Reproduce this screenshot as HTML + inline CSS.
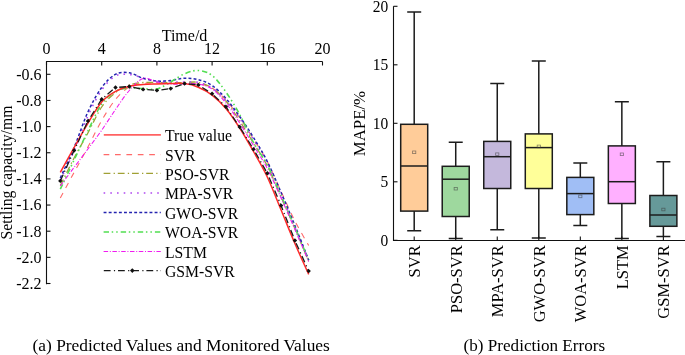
<!DOCTYPE html><html><head><meta charset="utf-8"><style>
html,body{margin:0;padding:0;background:#fff;width:685px;height:355px;overflow:hidden}
svg{display:block;will-change:transform} text{font-family:"Liberation Serif", serif;fill:#000}
</style></head><body>
<svg width="685" height="355" viewBox="0 0 685 355">
<g fill="none" stroke-linejoin="round">
<path d="M60.30,198.00 C62.60,193.73 69.50,180.90 74.10,172.40 C78.70,163.90 83.30,155.65 87.90,147.00 C92.50,138.35 97.10,128.42 101.70,120.50 C106.30,112.58 110.90,105.08 115.50,99.50 C120.10,93.92 124.70,89.67 129.30,87.00 C133.90,84.33 138.50,84.17 143.10,83.50 C147.70,82.83 152.30,83.00 156.90,83.00 C161.50,83.00 166.10,83.42 170.70,83.50 C175.30,83.58 179.90,83.42 184.50,83.50 C189.10,83.58 193.70,83.25 198.30,84.00 C202.90,84.75 207.50,85.33 212.10,88.00 C216.70,90.67 221.30,95.00 225.90,100.00 C230.50,105.00 235.10,111.50 239.70,118.00 C244.30,124.50 248.90,131.75 253.50,139.00 C258.10,146.25 262.70,152.75 267.30,161.50 C271.90,170.25 276.50,181.58 281.10,191.50 C285.70,201.42 290.30,212.00 294.90,221.00 C299.50,230.00 306.40,241.42 308.70,245.50" stroke="#ff6a6a" stroke-width="1.1" stroke-dasharray="5.7 5.7"/>
<path d="M60.30,185.50 C62.60,180.92 69.50,166.75 74.10,158.00 C78.70,149.25 83.30,141.50 87.90,133.00 C92.50,124.50 97.10,113.75 101.70,107.00 C106.30,100.25 110.90,96.17 115.50,92.50 C120.10,88.83 124.70,86.67 129.30,85.00 C133.90,83.33 138.50,82.92 143.10,82.50 C147.70,82.08 152.30,82.45 156.90,82.50 C161.50,82.55 166.10,82.80 170.70,82.80 C175.30,82.80 179.90,82.57 184.50,82.50 C189.10,82.43 193.70,81.48 198.30,82.40 C202.90,83.32 207.50,84.90 212.10,88.00 C216.70,91.10 221.30,95.50 225.90,101.00 C230.50,106.50 235.10,114.00 239.70,121.00 C244.30,128.00 248.90,135.50 253.50,143.00 C258.10,150.50 262.70,157.00 267.30,166.00 C271.90,175.00 276.50,186.58 281.10,197.00 C285.70,207.42 290.30,217.75 294.90,228.50 C299.50,239.25 306.40,256.00 308.70,261.50" stroke="#a0a034" stroke-width="1.3" stroke-dasharray="6.8 3.2 1.3 2.9"/>
<path d="M60.30,180.00 C62.60,175.17 69.50,161.67 74.10,151.00 C78.70,140.33 83.30,126.17 87.90,116.00 C92.50,105.83 97.10,96.67 101.70,90.00 C106.30,83.33 110.90,78.58 115.50,76.00 C120.10,73.42 124.70,74.17 129.30,74.50 C133.90,74.83 138.50,76.83 143.10,78.00 C147.70,79.17 152.30,80.83 156.90,81.50 C161.50,82.17 166.10,81.92 170.70,82.00 C175.30,82.08 179.90,81.92 184.50,82.00 C189.10,82.08 193.70,81.50 198.30,82.50 C202.90,83.50 207.50,84.92 212.10,88.00 C216.70,91.08 221.30,95.92 225.90,101.00 C230.50,106.08 235.10,112.03 239.70,118.50 C244.30,124.97 248.90,132.38 253.50,139.80 C258.10,147.22 262.70,153.80 267.30,163.00 C271.90,172.20 276.50,184.33 281.10,195.00 C285.70,205.67 290.30,216.17 294.90,227.00 C299.50,237.83 306.40,254.50 308.70,260.00" stroke="#b048f0" stroke-width="1.6" stroke-dasharray="1.6 5.1"/>
<path d="M60.30,178.00 C62.60,172.92 69.50,158.50 74.10,147.50 C78.70,136.50 83.30,122.00 87.90,112.00 C92.50,102.00 97.10,93.78 101.70,87.50 C106.30,81.22 110.90,76.75 115.50,74.30 C120.10,71.85 124.70,72.13 129.30,72.80 C133.90,73.47 138.50,76.93 143.10,78.30 C147.70,79.67 152.30,80.63 156.90,81.00 C161.50,81.37 166.10,80.95 170.70,80.50 C175.30,80.05 179.90,78.45 184.50,78.30 C189.10,78.15 193.70,78.40 198.30,79.60 C202.90,80.80 207.50,82.35 212.10,85.50 C216.70,88.65 221.30,93.33 225.90,98.50 C230.50,103.67 235.10,110.00 239.70,116.50 C244.30,123.00 248.90,130.00 253.50,137.50 C258.10,145.00 262.70,152.33 267.30,161.50 C271.90,170.67 276.50,181.83 281.10,192.50 C285.70,203.17 290.30,214.25 294.90,225.50 C299.50,236.75 306.40,254.25 308.70,260.00" stroke="#2424b0" stroke-width="1.5" stroke-dasharray="2.9 2.2"/>
<path d="M60.30,189.20 C62.60,184.33 69.50,169.70 74.10,160.00 C78.70,150.30 83.30,140.33 87.90,131.00 C92.50,121.67 97.10,110.58 101.70,104.00 C106.30,97.42 110.90,94.17 115.50,91.50 C120.10,88.83 124.70,88.50 129.30,88.00 C133.90,87.50 138.50,88.33 143.10,88.50 C147.70,88.67 152.30,90.08 156.90,89.00 C161.50,87.92 166.10,84.53 170.70,82.00 C175.30,79.47 179.90,75.72 184.50,73.80 C189.10,71.88 193.70,70.22 198.30,70.50 C202.90,70.78 207.50,71.92 212.10,75.50 C216.70,79.08 221.30,85.50 225.90,92.00 C230.50,98.50 235.10,106.08 239.70,114.50 C244.30,122.92 248.90,134.08 253.50,142.50 C258.10,150.92 262.70,156.08 267.30,165.00 C271.90,173.92 276.50,185.58 281.10,196.00 C285.70,206.42 290.30,216.75 294.90,227.50 C299.50,238.25 306.40,255.00 308.70,260.50" stroke="#52de52" stroke-width="1.6" stroke-dasharray="5.4 2.7 1.5 3 1.5 3"/>
<path d="M60.30,186.00 C62.60,182.90 69.50,173.57 74.10,167.40 C78.70,161.23 83.30,155.20 87.90,149.00 C92.50,142.80 97.10,136.78 101.70,130.20 C106.30,123.62 110.90,116.12 115.50,109.50 C120.10,102.88 124.70,95.67 129.30,90.50 C133.90,85.33 138.50,79.92 143.10,78.50 C147.70,77.08 152.30,81.08 156.90,82.00 C161.50,82.92 166.10,83.67 170.70,84.00 C175.30,84.33 179.90,84.00 184.50,84.00 C189.10,84.00 193.70,83.17 198.30,84.00 C202.90,84.83 207.50,85.83 212.10,89.00 C216.70,92.17 221.30,97.33 225.90,103.00 C230.50,108.67 235.10,115.92 239.70,123.00 C244.30,130.08 248.90,137.92 253.50,145.50 C258.10,153.08 262.70,159.75 267.30,168.50 C271.90,177.25 276.50,187.83 281.10,198.00 C285.70,208.17 290.30,218.92 294.90,229.50 C299.50,240.08 306.40,256.17 308.70,261.50" stroke="#f01cf0" stroke-width="1.1" stroke-dasharray="4.5 1.7 1 1.6"/>
<path d="M60.30,172.40 C62.60,168.25 69.50,155.68 74.10,147.50 C78.70,139.32 83.30,130.88 87.90,123.30 C92.50,115.72 97.10,107.32 101.70,102.00 C106.30,96.68 110.90,94.02 115.50,91.40 C120.10,88.78 124.70,87.43 129.30,86.30 C133.90,85.17 138.50,84.98 143.10,84.60 C147.70,84.22 152.30,84.17 156.90,84.00 C161.50,83.83 166.10,83.67 170.70,83.60 C175.30,83.53 179.90,83.00 184.50,83.60 C189.10,84.20 193.70,85.28 198.30,87.20 C202.90,89.12 207.50,91.55 212.10,95.10 C216.70,98.65 221.30,103.02 225.90,108.50 C230.50,113.98 235.10,120.83 239.70,128.00 C244.30,135.17 248.90,143.33 253.50,151.50 C258.10,159.67 262.70,167.25 267.30,177.00 C271.90,186.75 276.50,198.92 281.10,210.00 C285.70,221.08 290.30,232.77 294.90,243.50 C299.50,254.23 306.40,269.25 308.70,274.40" stroke="#ff2a2a" stroke-width="1.5"/>
<path d="M60.30,180.90 L74.10,150.50 L87.90,121.10 L101.70,99.20 L115.50,87.50 L129.30,86.50 L143.10,89.40 L156.90,90.40 L170.70,88.60 L184.50,83.60 L198.30,84.90 L212.10,93.80 L225.90,106.70 L239.70,127.00 L253.50,149.20 L267.30,173.20 L281.10,205.60 L294.90,240.50 L308.70,271.10" stroke="#1a1a1a" stroke-width="1.3" stroke-dasharray="6.8 3.3 1.2 2.9"/>
</g>
<g fill="#111">
<path d="M60.30,178.70 L62.50,180.90 L60.30,183.10 L58.10,180.90Z"/>
<path d="M74.10,148.30 L76.30,150.50 L74.10,152.70 L71.90,150.50Z"/>
<path d="M87.90,118.90 L90.10,121.10 L87.90,123.30 L85.70,121.10Z"/>
<path d="M101.70,97.00 L103.90,99.20 L101.70,101.40 L99.50,99.20Z"/>
<path d="M115.50,85.30 L117.70,87.50 L115.50,89.70 L113.30,87.50Z"/>
<path d="M129.30,84.30 L131.50,86.50 L129.30,88.70 L127.10,86.50Z"/>
<path d="M143.10,87.20 L145.30,89.40 L143.10,91.60 L140.90,89.40Z"/>
<path d="M156.90,88.20 L159.10,90.40 L156.90,92.60 L154.70,90.40Z"/>
<path d="M170.70,86.40 L172.90,88.60 L170.70,90.80 L168.50,88.60Z"/>
<path d="M184.50,81.40 L186.70,83.60 L184.50,85.80 L182.30,83.60Z"/>
<path d="M198.30,82.70 L200.50,84.90 L198.30,87.10 L196.10,84.90Z"/>
<path d="M212.10,91.60 L214.30,93.80 L212.10,96.00 L209.90,93.80Z"/>
<path d="M225.90,104.50 L228.10,106.70 L225.90,108.90 L223.70,106.70Z"/>
<path d="M239.70,124.80 L241.90,127.00 L239.70,129.20 L237.50,127.00Z"/>
<path d="M253.50,147.00 L255.70,149.20 L253.50,151.40 L251.30,149.20Z"/>
<path d="M267.30,171.00 L269.50,173.20 L267.30,175.40 L265.10,173.20Z"/>
<path d="M281.10,203.40 L283.30,205.60 L281.10,207.80 L278.90,205.60Z"/>
<path d="M294.90,238.30 L297.10,240.50 L294.90,242.70 L292.70,240.50Z"/>
<path d="M308.70,268.90 L310.90,271.10 L308.70,273.30 L306.50,271.10Z"/>
</g>
<g stroke="#111" stroke-width="1.1" fill="none">
<path d="M46.5,284.3 V61.5 H322.5"/>
<path d="M46.50,61.5 v4"/>
<path d="M101.70,61.5 v4"/>
<path d="M156.90,61.5 v4"/>
<path d="M212.10,61.5 v4"/>
<path d="M267.30,61.5 v4"/>
<path d="M322.50,61.5 v4"/>
<path d="M46.5,74.30 h4"/>
<path d="M46.5,100.45 h4"/>
<path d="M46.5,126.60 h4"/>
<path d="M46.5,152.75 h4"/>
<path d="M46.5,178.90 h4"/>
<path d="M46.5,205.05 h4"/>
<path d="M46.5,231.20 h4"/>
<path d="M46.5,257.35 h4"/>
<path d="M46.5,283.50 h4"/>
</g>
<g font-size="16" text-anchor="middle">
<text x="46.50" y="53.6">0</text>
<text x="101.70" y="53.6">4</text>
<text x="156.90" y="53.6">8</text>
<text x="212.10" y="53.6">12</text>
<text x="267.30" y="53.6">16</text>
<text x="322.50" y="53.6">20</text>
</g>
<g font-size="16" text-anchor="end">
<text x="41.6" y="79.60">-0.6</text>
<text x="41.6" y="105.75">-0.8</text>
<text x="41.6" y="131.90">-1.0</text>
<text x="41.6" y="158.05">-1.2</text>
<text x="41.6" y="184.20">-1.4</text>
<text x="41.6" y="210.35">-1.6</text>
<text x="41.6" y="236.50">-1.8</text>
<text x="41.6" y="262.65">-2.0</text>
<text x="41.6" y="288.80">-2.2</text>
</g>
<text x="184.5" y="41.1" font-size="16" text-anchor="middle">Time/d</text>
<text transform="translate(12.3,172.5) rotate(-90)" font-size="15.7" text-anchor="middle">Settling capacity/mm</text>
<g fill="none">
<path d="M103.6,154.6 H160.8" stroke="#ff6a6a" stroke-width="1.1" stroke-dasharray="5.7 5.7"/>
<path d="M103.6,173.4 H160.8" stroke="#a0a034" stroke-width="1.3" stroke-dasharray="6.8 3.2 1.3 2.9"/>
<path d="M103.6,193.0 H160.8" stroke="#b048f0" stroke-width="1.6" stroke-dasharray="1.6 5.1"/>
<path d="M103.6,212.6 H160.8" stroke="#2424b0" stroke-width="1.5" stroke-dasharray="2.9 2.2"/>
<path d="M103.6,232.0 H160.8" stroke="#52de52" stroke-width="1.6" stroke-dasharray="5.4 2.7 1.5 3 1.5 3"/>
<path d="M103.6,251.5 H160.8" stroke="#f01cf0" stroke-width="1.1" stroke-dasharray="4.5 1.7 1 1.6"/>
<path d="M103.8,134.9 H160.9" stroke="#ff6262" stroke-width="1.9"/>
<path d="M103.8,270.6 H160.9" stroke="#1a1a1a" stroke-width="1.3" stroke-dasharray="6.8 3.3 1.2 2.9"/>
</g>
<path d="M132.3,268.3 L134.6,270.6 L132.3,272.9 L130,270.6Z" fill="#111"/>
<g font-size="15.7">
<text x="165" y="141.00">True value</text>
<text x="165" y="160.70">SVR</text>
<text x="165" y="179.50">PSO-SVR</text>
<text x="165" y="199.10">MPA-SVR</text>
<text x="165" y="218.70">GWO-SVR</text>
<text x="165" y="238.10">WOA-SVR</text>
<text x="165" y="257.60">LSTM</text>
<text x="165" y="276.70">GSM-SVR</text>
</g>
<text x="32.5" y="351.4" font-size="17.4">(a) Predicted Values and Monitored Values</text>
<g stroke="#1c1c1c" stroke-width="1.5">
<path d="M414.20,12.0 V124.3 M414.20,211.1 V230.7 M407.20,12.0 h14 M407.20,230.7 h14" fill="none"/>
<rect x="400.70" y="124.3" width="27" height="86.80" fill="#ffcc99"/>
<path d="M400.70,166.0 h27" fill="none"/>
<path d="M455.73,142.3 V166.3 M455.73,216.5 V238.5 M448.73,142.3 h14 M448.73,238.5 h14" fill="none"/>
<rect x="442.23" y="166.3" width="27" height="50.20" fill="#9ed89e"/>
<path d="M442.23,179.2 h27" fill="none"/>
<path d="M497.26,83.4 V141.4 M497.26,188.5 V229.8 M490.26,83.4 h14 M490.26,229.8 h14" fill="none"/>
<rect x="483.76" y="141.4" width="27" height="47.10" fill="#c4b8dc"/>
<path d="M483.76,156.7 h27" fill="none"/>
<path d="M538.79,60.9 V133.9 M538.79,188.5 V238.0 M531.79,60.9 h14 M531.79,238.0 h14" fill="none"/>
<rect x="525.29" y="133.9" width="27" height="54.60" fill="#ffff99"/>
<path d="M525.29,147.6 h27" fill="none"/>
<path d="M580.32,163.0 V177.4 M580.32,214.6 V225.6 M573.32,163.0 h14 M573.32,225.6 h14" fill="none"/>
<rect x="566.82" y="177.4" width="27" height="37.20" fill="#a0bef5"/>
<path d="M566.82,193.6 h27" fill="none"/>
<path d="M621.85,101.8 V145.9 M621.85,203.5 V238.5 M614.85,101.8 h14 M614.85,238.5 h14" fill="none"/>
<rect x="608.35" y="145.9" width="27" height="57.60" fill="#ffb0ff"/>
<path d="M608.35,181.7 h27" fill="none"/>
<path d="M663.38,161.8 V195.5 M663.38,226.3 V236.4 M656.38,161.8 h14 M656.38,236.4 h14" fill="none"/>
<rect x="649.88" y="195.5" width="27" height="30.80" fill="#669999"/>
<path d="M649.88,215.0 h27" fill="none"/>
</g>
<g stroke="#3a3a3a" stroke-width="0.8" fill="none" opacity="0.6">
<rect x="412.60" y="151.00" width="3.2" height="2.6"/>
<rect x="454.13" y="187.40" width="3.2" height="2.6"/>
<rect x="495.66" y="152.90" width="3.2" height="2.6"/>
<rect x="537.19" y="145.10" width="3.2" height="2.6"/>
<rect x="578.72" y="195.10" width="3.2" height="2.6"/>
<rect x="620.25" y="153.00" width="3.2" height="2.6"/>
<rect x="661.78" y="208.20" width="3.2" height="2.6"/>
</g>
<g stroke="#111" stroke-width="1.1" fill="none">
<path d="M393.5,6.3 V240.5 H685"/>
<path d="M393.5,240.30 h4"/>
<path d="M393.5,181.80 h4"/>
<path d="M393.5,123.30 h4"/>
<path d="M393.5,64.80 h4"/>
<path d="M393.5,6.30 h4"/>
<path d="M414.20,240.5 v-4"/>
<path d="M455.73,240.5 v-4"/>
<path d="M497.26,240.5 v-4"/>
<path d="M538.79,240.5 v-4"/>
<path d="M580.32,240.5 v-4"/>
<path d="M621.85,240.5 v-4"/>
<path d="M663.38,240.5 v-4"/>
</g>
<g font-size="17.2" text-anchor="end">
<text transform="translate(388.3,245.90) scale(0.9,1)">0</text>
<text transform="translate(388.3,187.40) scale(0.9,1)">5</text>
<text transform="translate(388.3,128.90) scale(0.9,1)">10</text>
<text transform="translate(388.3,70.40) scale(0.9,1)">15</text>
<text transform="translate(388.3,11.90) scale(0.9,1)">20</text>
</g>
<g font-size="16.5" text-anchor="end">
<text transform="translate(420.20,245.3) rotate(-90)">SVR</text>
<text transform="translate(461.73,245.3) rotate(-90)">PSO-SVR</text>
<text transform="translate(503.26,245.3) rotate(-90)">MPA-SVR</text>
<text transform="translate(544.79,245.3) rotate(-90)">GWO-SVR</text>
<text transform="translate(586.32,245.3) rotate(-90)">WOA-SVR</text>
<text transform="translate(627.85,245.3) rotate(-90)">LSTM</text>
<text transform="translate(669.38,245.3) rotate(-90)">GSM-SVR</text>
</g>
<text transform="translate(365.3,123.6) rotate(-90)" font-size="16.8" text-anchor="middle">MAPE/%</text>
<text x="463.6" y="351.4" font-size="17.1">(b) Prediction Errors</text>
</svg></body></html>
